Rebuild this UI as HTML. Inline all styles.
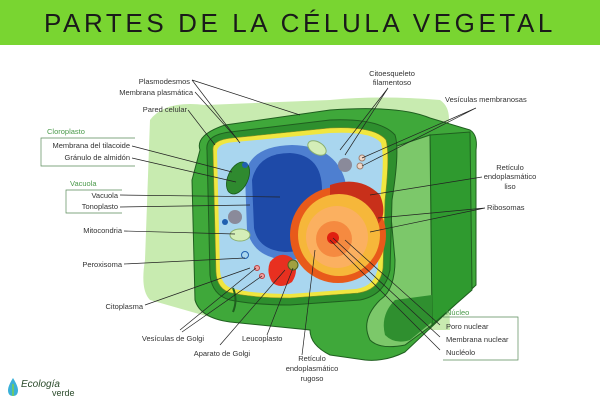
<!DOCTYPE html>
<html><head><meta charset="utf-8"><style>
html,body{margin:0;padding:0;background:#fff;width:600px;height:400px;overflow:hidden}
svg{display:block}
text{font-family:"Liberation Sans",sans-serif;font-size:7.5px;fill:#333}
.g{fill:#4a9a4a}
.r{text-anchor:end}
.m{text-anchor:middle}
</style></head><body>
<svg width="600" height="400" viewBox="0 0 600 400">
<rect x="0" y="0" width="600" height="45" fill="#79d531"/>
<text x="300" y="32" class="m" style="font-size:26px;letter-spacing:3.6px;fill:#1a1a1a">PARTES DE LA CÉLULA VEGETAL</text>

<path d="M150 120 Q165 100 205 105 L330 100 Q380 95 440 100 Q455 110 445 140 L450 330 L330 330 L220 320 L150 300 Q140 290 145 260 Z" fill="#c8ebb0"/>

<path d="M200 150 Q195 135 225 125 L330 110 Q400 105 430 118 L470 130 Q478 135 476 150 L476 285 L405 352 Q385 362 365 360 L330 355 Q310 345 310 330 L230 322 Q200 318 195 300 L192 180 Z" fill="#3fa83a" stroke="#1f5f1f" stroke-width="1"/>
<path d="M430 135 L470 132 L472 290 L432 325 Z" fill="#2f9a2f" stroke="#1f5f1f" stroke-width="1"/>
<path d="M385 150 Q400 145 430 135 L432 325 L405 345 Q380 350 370 340 Q360 320 380 300 Q395 290 395 260 Z" fill="#7cc86a" stroke="#1f5f1f" stroke-width="1"/>
<path d="M395 300 Q380 315 385 335 Q395 345 410 340 L432 322 L432 295 Z" fill="#2f8f2f"/>
<path d="M207 150 Q205 135 230 132 L330 120 Q380 118 395 135 Q400 150 392 200 L390 270 Q385 295 360 300 L290 305 Q255 305 230 300 Q212 295 210 275 Z" fill="#2e8f2e" stroke="#1f5f1f" stroke-width="1"/>
<path d="M213 150 Q212 140 232 138 L330 128 Q375 126 386 140 Q390 155 385 200 L383 268 Q380 290 358 293 L290 298 Q255 298 232 293 Q217 290 216 272 Z" fill="#f0e640" stroke="#8a8a20" stroke-width="0.6"/>
<path d="M217 152 Q217 143 235 142 L330 133 Q372 131 381 143 Q385 157 380 200 L378 266 Q376 286 356 289 L290 294 Q256 294 234 289 Q221 286 220 270 Z" fill="#a9d6ef"/>
<path d="M245 175 Q250 146 292 145 Q335 146 345 180 Q350 205 338 225 L328 242 Q316 260 285 260 Q253 257 247 230 Z" fill="#4e7fd0"/>
<path d="M252 180 Q258 153 290 153 Q322 155 322 190 L318 232 Q312 252 285 252 Q258 250 254 228 Z" fill="#1e4aa8"/>
<circle cx="338" cy="235" r="48" fill="#e85a1a"/>
<path d="M330 185 Q360 175 380 195 Q388 215 377 225 Q355 200 330 195 Z" fill="#c8301a"/>
<circle cx="339" cy="235" r="41" fill="#f6b73a"/>
<circle cx="337" cy="237" r="31" fill="#fbb060"/>
<circle cx="334" cy="239" r="18" fill="#f58a40"/>
<circle cx="333" cy="238" r="6" fill="#e02010"/>
<ellipse cx="238" cy="178" rx="10" ry="17" transform="rotate(25 238 178)" fill="#2f8a2f" stroke="#1a5a1a" stroke-width="0.8"/>
<ellipse cx="317" cy="148" rx="10" ry="6" transform="rotate(30 317 148)" fill="#d4eeb8" stroke="#8ab070"/>
<ellipse cx="240" cy="235" rx="10" ry="6" fill="#d4eeb8" stroke="#8ab070"/>
<circle cx="235" cy="217" r="7" fill="#8a8a9a"/>
<circle cx="345" cy="165" r="7" fill="#8a8a9a"/>
<circle cx="245" cy="165" r="3" fill="#2060b0"/>
<circle cx="225" cy="222" r="3" fill="#2060b0"/>
<circle cx="362" cy="158" r="3" fill="#f0d8c8" stroke="#a08070"/>
<circle cx="360" cy="166" r="3" fill="#f0d8c8" stroke="#a08070"/>
<circle cx="245" cy="255" r="3.5" fill="#a9d6ef" stroke="#2060b0"/>
<circle cx="257" cy="268" r="2.5" fill="#f0a0a0" stroke="#c04040"/>
<circle cx="262" cy="276" r="2.5" fill="#f0a0a0" stroke="#c04040"/>
<path d="M270 262 Q280 250 292 258 Q300 270 292 282 Q280 290 272 282 Q266 272 270 262Z" fill="#e83020"/>
<circle cx="293" cy="265" r="5" fill="#a0a040" stroke="#506020"/>
<path d="M233 288 Q238 300 233 312" stroke="#1f5f1f" fill="none" stroke-width="2"/>

<g stroke="#222" stroke-width="0.7" fill="none">
<path d="M192 80 L300 115 M192 80 L240 143"/>
<path d="M195 92 L238 140"/>
<path d="M188 110 L215 145"/>
<path d="M132 146 L232 172"/>
<path d="M132 158 L236 182"/>
<path d="M120 195 L280 197"/>
<path d="M120 207 L250 205"/>
<path d="M124 231 L235 234"/>
<path d="M124 264 L245 258"/>
<path d="M145 305 L250 268"/>
<path d="M180 330 L256 268 M182 332 L262 276"/>
<path d="M220 345 L285 270"/>
<path d="M267 335 L293 268"/>
<path d="M302 355 L315 250"/>
<path d="M388 88 L340 150 M388 88 L345 155"/>
<path d="M476 108 L362 158 M476 108 L362 166"/>
<path d="M482 177 L370 195"/>
<path d="M485 208 L378 218 M485 208 L370 232"/>
<path d="M440 325 L345 240"/>
<path d="M440 337 L333 238"/>
<path d="M440 350 L330 240"/>
</g>
<g stroke="#5a8a5a" stroke-width="0.7" fill="none">
<path d="M135 138 L41 138 L41 166 L135 166"/>
<path d="M122 190 L66 190 L66 213 L122 213"/>
<path d="M443 317 L518 317 L518 360 L443 360"/>
</g>

<text x="190" y="84" class="r">Plasmodesmos</text>
<text x="193" y="95" class="r">Membrana plasmática</text>
<text x="187" y="112" class="r">Pared celular</text>
<text x="47" y="134" class="g">Cloroplasto</text>
<text x="130" y="148" class="r">Membrana del tilacoide</text>
<text x="130" y="160" class="r">Gránulo de almidón</text>
<text x="70" y="186" class="g">Vacuola</text>
<text x="118" y="198" class="r">Vacuola</text>
<text x="118" y="209" class="r">Tonoplasto</text>
<text x="122" y="233" class="r">Mitocondria</text>
<text x="122" y="267" class="r">Peroxisoma</text>
<text x="143" y="309" class="r">Citoplasma</text>
<text x="204" y="341" class="r">Vesículas de Golgi</text>
<text x="250" y="356" class="r">Aparato de Golgi</text>
<text x="242" y="341">Leucoplasto</text>
<text x="312" y="361" class="m">Retículo</text>
<text x="312" y="371" class="m">endoplasmático</text>
<text x="312" y="381" class="m">rugoso</text>
<text x="392" y="76" class="m">Citoesqueleto</text>
<text x="392" y="85" class="m">filamentoso</text>
<text x="445" y="102">Vesículas membranosas</text>
<text x="510" y="170" class="m">Retículo</text>
<text x="510" y="179" class="m">endoplasmático</text>
<text x="510" y="189" class="m">liso</text>
<text x="487" y="210">Ribosomas</text>
<text x="446" y="315" class="g">Núcleo</text>
<text x="446" y="329">Poro nuclear</text>
<text x="446" y="342">Membrana nuclear</text>
<text x="446" y="355">Nucléolo</text>

<path d="M13 378 Q8 386 8 390 Q8 396 13 396 Q18 396 18 390 Q18 386 13 378Z" fill="#3ab0d8"/>
<path d="M13 384 L13 396" stroke="#7ad04a" stroke-width="1.5"/>
<text x="21" y="387" style="font-size:10px;fill:#2a4a2a;font-style:italic">Ecología</text>
<text x="52" y="396" style="font-size:9px;fill:#2a4a2a">verde</text>
</svg>
</body></html>
